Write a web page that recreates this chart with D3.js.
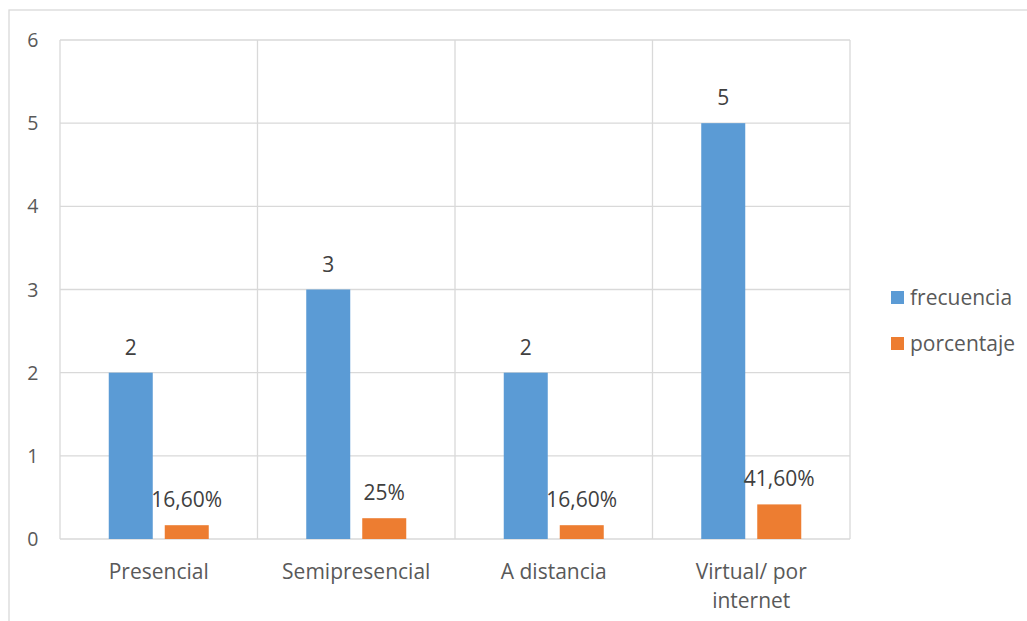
<!DOCTYPE html>
<html>
<head>
<meta charset="utf-8">
<script src="https://cdn.jsdelivr.net/npm/d3@7"></script>
<style>
  html, body { margin: 0; padding: 0; background: #fff; }
  svg { display: block; font-family: "Open Sans", "Noto Sans", sans-serif; }
</style>
</head>
<body>
<svg id="chart" width="1027" height="621"></svg>
<script>
// Modalidades de estudio: frecuencia y porcentaje
const categories = ["Presencial", "Semipresencial", "A distancia", "Virtual/ por internet"];
const frecuencia = [2, 3, 2, 5];
const porcentaje = [0.166, 0.25, 0.166, 0.416];
const porcentajeLabels = ["16,60%", "25%", "16,60%", "41,60%"];
const seriesNames = ["frecuencia", "porcentaje"];
const yTicks = [0, 1, 2, 3, 4, 5, 6];

const colors = ["#5b9bd5", "#ed7d31"];
const svg = d3.select("#chart");

// outer chart frame
svg.append("rect")
  .attr("x", 9).attr("y", 10).attr("width", 1040).attr("height", 640)
  .attr("fill", "none").attr("stroke", "#d9d9d9").attr("stroke-width", 1.3);

const plot = { left: 60, top: 40, right: 850, bottom: 539 };

const x = d3.scaleBand().domain(categories).range([plot.left, plot.right]);
const y = d3.scaleLinear().domain([0, 6]).range([plot.bottom, plot.top]);

const barW = 44, gap = 12;
const groupW = barW * 2 + gap;

// horizontal gridlines
svg.append("g").selectAll("line").data(yTicks).join("line")
  .attr("x1", plot.left).attr("x2", plot.right)
  .attr("y1", d => y(d)).attr("y2", d => y(d))
  .attr("stroke", "#d9d9d9").attr("stroke-width", 1.3);

// vertical category separators
const bounds = categories.map(c => x(c)).concat([plot.right]);
svg.append("g").selectAll("line").data(bounds).join("line")
  .attr("x1", d => d).attr("x2", d => d)
  .attr("y1", plot.top).attr("y2", plot.bottom)
  .attr("stroke", "#d9d9d9").attr("stroke-width", 1.3);

// y tick labels
svg.append("g").selectAll("text").data(yTicks).join("text")
  .attr("x", 38.5).attr("y", d => y(d))
  .attr("dy", "0.36em")
  .attr("text-anchor", "end")
  .attr("font-size", 19.5).attr("fill", "#595959")
  .text(d => d);

// bars
const series = [frecuencia, porcentaje];
series.forEach((vals, si) => {
  const g = svg.append("g");
  const bx = (c) => x(c) + (x.bandwidth() - groupW) / 2 + si * (barW + gap);
  g.selectAll("rect").data(categories).join("rect")
    .attr("x", c => bx(c))
    .attr("y", (c, i) => y(vals[i]))
    .attr("width", barW)
    .attr("height", (c, i) => y(0) - y(vals[i]))
    .attr("fill", colors[si]);
  g.selectAll("text").data(categories).join("text")
    .attr("x", c => bx(c) + barW / 2)
    .attr("y", (c, i) => y(vals[i]) - 18)
    .attr("text-anchor", "middle")
    .attr("font-size", 21).attr("fill", "#404040")
    .text((c, i) => si === 0 ? vals[i] : porcentajeLabels[i]);
});

// category labels (wrapped)
const catLines = {
  "Presencial": ["Presencial"],
  "Semipresencial": ["Semipresencial"],
  "A distancia": ["A distancia"],
  "Virtual/ por internet": ["Virtual/ por", "internet"]
};
svg.append("g").selectAll("text").data(categories).join("text")
  .attr("x", c => x(c) + x.bandwidth() / 2)
  .attr("y", 579)
  .attr("text-anchor", "middle")
  .attr("font-size", 21).attr("fill", "#595959")
  .each(function(c) {
    d3.select(this).selectAll("tspan").data(catLines[c]).join("tspan")
      .attr("x", x(c) + x.bandwidth() / 2)
      .attr("dy", (d, i) => i === 0 ? 0 : 29)
      .text(d => d);
  });

// legend
const legend = svg.append("g");
seriesNames.forEach((name, i) => {
  const ly = 291 + i * 46;
  legend.append("rect")
    .attr("x", 891).attr("y", ly).attr("width", 13).attr("height", 13)
    .attr("fill", colors[i]);
  legend.append("text")
    .attr("x", 910).attr("y", ly + 6.5).attr("dy", "0.36em")
    .attr("font-size", 21).attr("fill", "#595959")
    .text(name);
});
</script>
</body>
</html>
